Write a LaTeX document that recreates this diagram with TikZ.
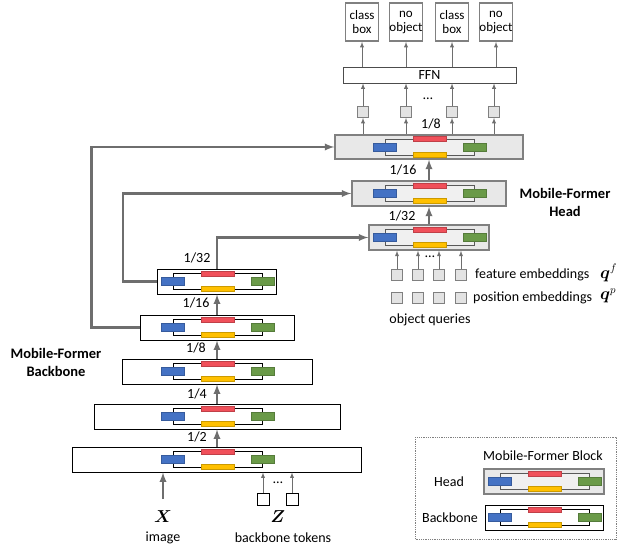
\documentclass[tikz,border=0pt]{standalone}
\usepackage{amsmath}
\usepackage{amssymb}
\usepackage{fontspec}
\setmainfont{Carlito}
\usepackage{tikz}
\definecolor{arrowgray}{RGB}{110,110,110}
\definecolor{boxgray}{RGB}{128,128,128}
\definecolor{barblue}{RGB}{68,114,196}
\definecolor{bargreen}{RGB}{106,154,72}
\definecolor{barred}{RGB}{240,80,90}
\definecolor{baryellow}{RGB}{255,192,0}
\tikzstyle{bbblock}=[draw=black, line width=0.9, fill=white, minimum height=25, inner sep=0]
\tikzstyle{hdblock}=[draw=boxgray, line width=1.4, fill=gray!18, minimum height=25, inner sep=0]
\tikzstyle{outbox}=[draw=boxgray, line width=1.8, fill=white, minimum width=33, minimum height=38, inner sep=0, align=center, font=\fontsize{13}{14}\selectfont]
\tikzstyle{ffnbox}=[draw=black!70, line width=0.8, fill=white, minimum width=173, minimum height=16, inner sep=0]
\tikzstyle{flow}=[draw=arrowgray, line width=2.2, -latex]
\tikzstyle{feed}=[draw=arrowgray, line width=0.9, -latex]
\tikzstyle{query}=[draw=gray, fill=gray!22, line width=0.8, minimum size=11, inner sep=0]
\tikzstyle{token}=[draw=black, fill=white, line width=0.7, minimum size=12, inner sep=0]
\tikzstyle{lbl}=[inner sep=1]
\tikzstyle{qsym}=[inner sep=1, anchor=west, font=\fontsize{16}{16}\selectfont]
\tikzstyle{title}=[inner sep=1, align=center, font=\fontsize{14.5}{18}\selectfont\bfseries]
\newcommand{\mfinner}[2]{%
  \begin{scope}[shift={(#1.center)}]
    \draw[#2, line width=0.6] (-44,-8) rectangle (45,8);
    \draw[barred!80!black, fill=barred, line width=0.3] (-16,-10.5) rectangle (17,-5.5);
    \draw[baryellow!80!black, fill=baryellow, line width=0.3] (-16,5) rectangle (17,10);
    \draw[barblue!80!black, fill=barblue, line width=0.3] (-56,-4) rectangle (-33,4);
    \draw[bargreen!80!black, fill=bargreen, line width=0.3] (34,-4) rectangle (57,4);
  \end{scope}}

\begin{document}
\begin{tikzpicture}[x=1pt, y=-1pt, font=\fontsize{14}{15}\selectfont]
\useasboundingbox (0,0) rectangle (618,545);

\node[bbblock, minimum width=289] (b1) at (217,459.5) {};
\node[bbblock, minimum width=246] (b2) at (217,416.5) {};
\node[bbblock, minimum width=190] (b3) at (217,371.5) {};
\node[bbblock, minimum width=154] (b4) at (217,327.5) {};
\node[bbblock, minimum width=119] (b5) at (217,281.5) {};
\mfinner{b1}{draw=black}
\mfinner{b2}{draw=black}
\mfinner{b3}{draw=black}
\mfinner{b4}{draw=black}
\mfinner{b5}{draw=black}

\node[hdblock, minimum width=120] (h3) at (429,237.5) {};
\node[hdblock, minimum width=154] (h2) at (429,193.5) {};
\node[hdblock, minimum width=188, minimum height=24] (h1) at (429,147) {};
\mfinner{h3}{draw=gray!70!black, fill=white!88!gray}
\mfinner{h2}{draw=gray!70!black, fill=white!88!gray}
\mfinner{h1}{draw=gray!70!black, fill=white!88!gray}

\draw[flow] (b1.north) -- (b2.south);
\draw[flow] (b2.north) -- (b3.south);
\draw[flow] (b3.north) -- (b4.south);
\draw[flow] (b4.north) -- (b5.south);
\draw[flow] (b5.north) |- (h3.west);
\draw[flow] (b5.west) -- ++(-34,0) |- (h2.west);
\draw[flow] (b4.west) -- ++(-48,0) |- (h1.west);
\draw[flow] (h3.north) -- (h2.south);
\draw[flow] (h2.north) -- (h1.south);

\node[lbl] at (197,437) {1/2};
\node[lbl] at (197,394) {1/4};
\node[lbl] at (196,348) {1/8};
\node[lbl] at (196,303) {1/16};
\node[lbl] at (197,258) {1/32};
\node[lbl] at (402,216) {1/32};
\node[lbl] at (403,170) {1/16};
\node[lbl] at (431,124) {1/8};

\node[query] (s1) at (363,112) {};
\node[query] (s2) at (406,112) {};
\node[query] (s3) at (452,112) {};
\node[query] (s4) at (494,112) {};
\node[lbl] at (428,99) {\dots};
\node[ffnbox] (ffn) at (429.5,75) {FFN};
\node[outbox] (o1) at (362,22) {class\\box};
\node[outbox] (o2) at (406,22) {no\\object};
\node[outbox] (o3) at (452,22) {class\\box};
\node[outbox] (o4) at (496,22) {no\\object};
\foreach \s/\o in {s1/o1,s2/o2,s3/o3,s4/o4}{
  \draw[feed] (h1.north -| \s) -- (\s);
  \draw[feed] (\s) -- (\s |- ffn.south);
  \draw[feed] (ffn.north -| \o) -- (\o);
}

\node[query] (f1) at (397,275) {};
\node[query] (f2) at (418,275) {};
\node[query] (f3) at (439,275) {};
\node[query] (f4) at (461,275) {};
\node[query] (p1) at (397,297.5) {};
\node[query] (p2) at (418,297.5) {};
\node[query] (p3) at (439,297.5) {};
\node[query] (p4) at (461,297.5) {};
\foreach \f in {f1,f2,f3,f4}{
  \draw[feed] (\f) -- (\f |- h3.south);
}
\node[lbl] at (430,257) {\dots};
\node[lbl, anchor=west] at (474,275) {feature embeddings};
\node[qsym] at (599,273) {$\boldsymbol{q}^f$};
\node[lbl, anchor=west] at (472,297.5) {position embeddings};
\node[qsym] at (599,295.5) {$\boldsymbol{q}^p$};
\node[lbl] at (430,320) {object queries};

\node[title] at (565,202) {Mobile-Former\\Head};
\node[title] at (56,362) {Mobile-Former\\Backbone};

\coordinate (xin) at (163,499);
\draw[flow] (xin) -- (xin |- b1.south);
\node[token] (z1) at (263,499) {};
\node[token] (z2) at (292,499) {};
\draw[feed] (z1) -- (z1 |- b1.south);
\draw[feed] (z2) -- (z2 |- b1.south);
\node[lbl] at (278,483) {\dots};
\node[qsym, anchor=center] at (163,517) {$\boldsymbol{X}$};
\node[qsym, anchor=center] at (278,517) {$\boldsymbol{Z}$};
\node[lbl] at (163,538) {image};
\node[lbl] at (283,538) {backbone tokens};

\draw[gray, densely dotted, line width=0.8] (415,437) rectangle (616,539);
\node[lbl] at (543,456) {Mobile-Former Block};
\node[hdblock, minimum width=120] (lh) at (544,481.5) {};
\node[bbblock, minimum width=118] (lb) at (544,517.5) {};
\mfinner{lh}{draw=gray!70!black, fill=white!88!gray}
\mfinner{lb}{draw=black}
\node[lbl] at (449,482) {Head};
\node[lbl] at (450,518) {Backbone};
\end{tikzpicture}
\end{document}
